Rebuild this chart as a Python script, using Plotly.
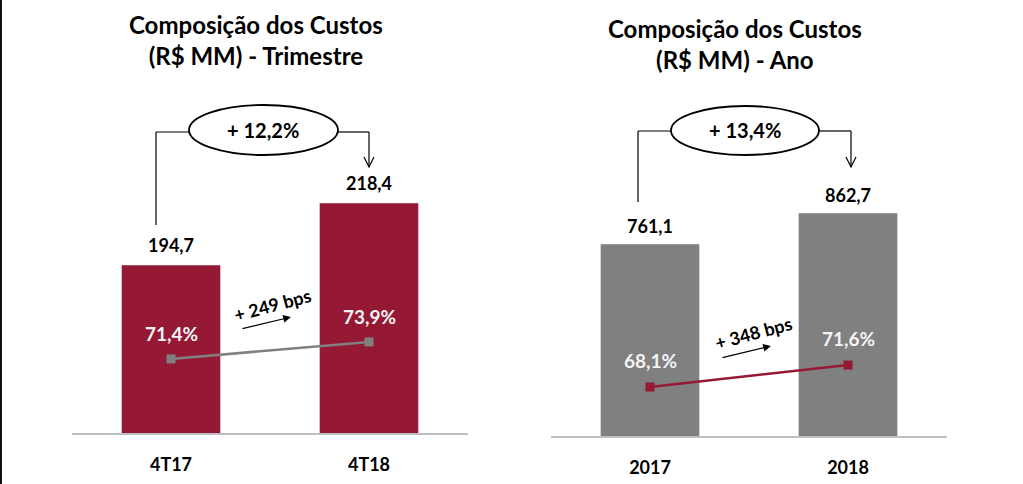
import plotly.graph_objects as go

# ---------------- data ----------------
cats_q = ["4T17", "4T18"]
costs_q = [194.7, 218.4]
pct_q = [71.4, 73.9]
growth_q = "+ 12,2%"
bps_q = "+ 249 bps"
title_q = "Composição dos Custos<br>(R$ MM) - Trimestre"

cats_y = ["2017", "2018"]
costs_y = [761.1, 862.7]
pct_y = [68.1, 71.6]
growth_y = "+ 13,4%"
bps_y = "+ 348 bps"
title_y = "Composição dos Custos<br>(R$ MM) - Ano"

RED = "#951834"
GRAY = "#808080"
FONT = "Lato"
W, H = 1023, 484


def fx(x):
    return x / W


def fy(y):
    return 1 - y / H


def br(v, d=1):
    return f"{v:.{d}f}".replace(".", ",")


fig = go.Figure()

# bars + lines
fig.add_trace(go.Bar(x=cats_q, y=costs_q, marker_color=RED, width=0.5,
                     xaxis="x", yaxis="y", showlegend=False, hoverinfo="skip"))
fig.add_trace(go.Scatter(x=cats_q, y=pct_q, mode="lines+markers",
                         line=dict(color=GRAY, width=2.5),
                         marker=dict(symbol="square", size=9, color=GRAY),
                         xaxis="x", yaxis="y2", showlegend=False, hoverinfo="skip"))
fig.add_trace(go.Bar(x=cats_y, y=costs_y, marker_color=GRAY, width=0.5,
                     xaxis="x3", yaxis="y3", showlegend=False, hoverinfo="skip"))
fig.add_trace(go.Scatter(x=cats_y, y=pct_y, mode="lines+markers",
                         line=dict(color=RED, width=2.5),
                         marker=dict(symbol="square", size=9, color=RED),
                         xaxis="x3", yaxis="y4", showlegend=False, hoverinfo="skip"))

axis_common = dict(type="category", range=[-0.5, 1.5], showgrid=False, zeroline=False,
                   showline=True, linecolor="#BFBFBF", linewidth=2, ticks="",
                   ticklabelstandoff=14,
                   tickfont=dict(family=FONT, size=18, color="black", weight="bold"))
yhidden = dict(showgrid=False, zeroline=False, showticklabels=False, showline=False)

fig.update_layout(
    width=W, height=H, margin=dict(l=0, r=0, t=0, b=0),
    paper_bgcolor="white", plot_bgcolor="white",
    barmode="overlay",
    xaxis=dict(domain=[fx(72), fx(468)], anchor="y", **axis_common),
    yaxis=dict(domain=[fy(433), fy(100)], range=[130.5, 257.8], **yhidden),
    yaxis2=dict(domain=[fy(433), fy(100)], range=[60.5, 109.5], overlaying="y",
                anchor="x", **yhidden),
    xaxis3=dict(domain=[fx(551), fx(947)], anchor="y3", **axis_common),
    yaxis3=dict(domain=[fy(436), fy(100)], range=[131.6, 1233.2], anchor="x3", **yhidden),
    yaxis4=dict(domain=[fy(436), fy(100)], range=[60.3, 113.8], overlaying="y3",
                anchor="x3", **yhidden),
)

C = dict(xanchor="center", yanchor="middle", showarrow=False)
ann = []
# value labels (category index positions)
for i, v in enumerate(costs_q):
    ann.append(dict(x=i, y=v, xref="x", yref="y", text=f"<b>{br(v)}</b>", yshift=20,
                    font=dict(family=FONT, size=18, color="black"), **C))
for i, v in enumerate(costs_y):
    ann.append(dict(x=i, y=v, xref="x3", yref="y3", text=f"<b>{br(v)}</b>", yshift=18,
                    font=dict(family=FONT, size=18, color="black"), **C))
# percent labels
for i, v in enumerate(pct_q):
    ann.append(dict(x=i, y=v, xref="x", yref="y2", text=f"<b>{br(v)}%</b>", yshift=25,
                    font=dict(family=FONT, size=19, color="#F4F4F4"), **C))
for i, v in enumerate(pct_y):
    ann.append(dict(x=i, y=v, xref="x3", yref="y4", text=f"<b>{br(v)}%</b>", yshift=27,
                    font=dict(family=FONT, size=19, color="#F4F4F4"), **C))
# titles
ann.append(dict(x=fx(256), y=fy(40), xref="paper", yref="paper", text=f"<b>{title_q}</b>",
                font=dict(family=FONT, size=24, color="black"), **C))
ann.append(dict(x=fx(735), y=fy(44), xref="paper", yref="paper", text=f"<b>{title_y}</b>",
                font=dict(family=FONT, size=24, color="black"), **C))
# growth in ellipses
ann.append(dict(x=fx(263), y=fy(130), xref="paper", yref="paper", text=f"<b>{growth_q}</b>",
                font=dict(family=FONT, size=20, color="black"), **C))
ann.append(dict(x=fx(745), y=fy(130), xref="paper", yref="paper", text=f"<b>{growth_y}</b>",
                font=dict(family=FONT, size=20, color="black"), **C))
# bps labels
ann.append(dict(x=fx(272), y=fy(305), xref="paper", yref="paper", text=f"<b>{bps_q}</b>",
                textangle=-15, font=dict(family=FONT, size=18, color="black"), **C))
ann.append(dict(x=fx(753), y=fy(333), xref="paper", yref="paper", text=f"<b>{bps_y}</b>",
                textangle=-15, font=dict(family=FONT, size=18, color="black"), **C))
# small arrows
ann.append(dict(x=fx(291), y=fy(317), xref="paper", yref="paper", text="", showarrow=True,
                ax=-50, ay=12, arrowhead=2, arrowsize=1.3, arrowwidth=1.2, arrowcolor="black"))
ann.append(dict(x=fx(771), y=fy(346), xref="paper", yref="paper", text="", showarrow=True,
                ax=-50, ay=12, arrowhead=2, arrowsize=1.3, arrowwidth=1.2, arrowcolor="black"))
fig.update_layout(annotations=ann)

line = dict(color="black", width=1.2)
shapes = [
    # left border
    dict(type="line", xref="paper", yref="paper", x0=fx(1), x1=fx(1), y0=0, y1=1,
         line=dict(color="#111111", width=2)),
    # left bracket
    dict(type="line", xref="paper", yref="paper", x0=fx(156), x1=fx(156), y0=fy(225), y1=fy(132), line=line),
    dict(type="line", xref="paper", yref="paper", x0=fx(156), x1=fx(189), y0=fy(132), y1=fy(132), line=line),
    dict(type="line", xref="paper", yref="paper", x0=fx(338), x1=fx(369), y0=fy(132), y1=fy(132), line=line),
    dict(type="line", xref="paper", yref="paper", x0=fx(369), x1=fx(369), y0=fy(132), y1=fy(167), line=line),
    dict(type="path", xref="paper", yref="paper",
         path=f"M {fx(364)},{fy(157)} L {fx(369)},{fy(167)} L {fx(374)},{fy(157)}", line=line),
    dict(type="circle", xref="paper", yref="paper", x0=fx(189), x1=fx(338), y0=fy(155), y1=fy(105),
         line=dict(color="black", width=1.8), fillcolor="white", layer="below"),
    # right bracket
    dict(type="line", xref="paper", yref="paper", x0=fx(638), x1=fx(638), y0=fy(202), y1=fy(131), line=line),
    dict(type="line", xref="paper", yref="paper", x0=fx(638), x1=fx(671), y0=fy(131), y1=fy(131), line=line),
    dict(type="line", xref="paper", yref="paper", x0=fx(819), x1=fx(851), y0=fy(131), y1=fy(131), line=line),
    dict(type="line", xref="paper", yref="paper", x0=fx(851), x1=fx(851), y0=fy(131), y1=fy(167), line=line),
    dict(type="path", xref="paper", yref="paper",
         path=f"M {fx(846)},{fy(157)} L {fx(851)},{fy(167)} L {fx(856)},{fy(157)}", line=line),
    dict(type="circle", xref="paper", yref="paper", x0=fx(671), x1=fx(819), y0=fy(155), y1=fy(106),
         line=dict(color="black", width=1.8), fillcolor="white", layer="below"),
]
fig.update_layout(shapes=shapes)

fig.write_html("out.html", config={"displayModeBar": False},
               post_script="document.body.style.margin='0';")
